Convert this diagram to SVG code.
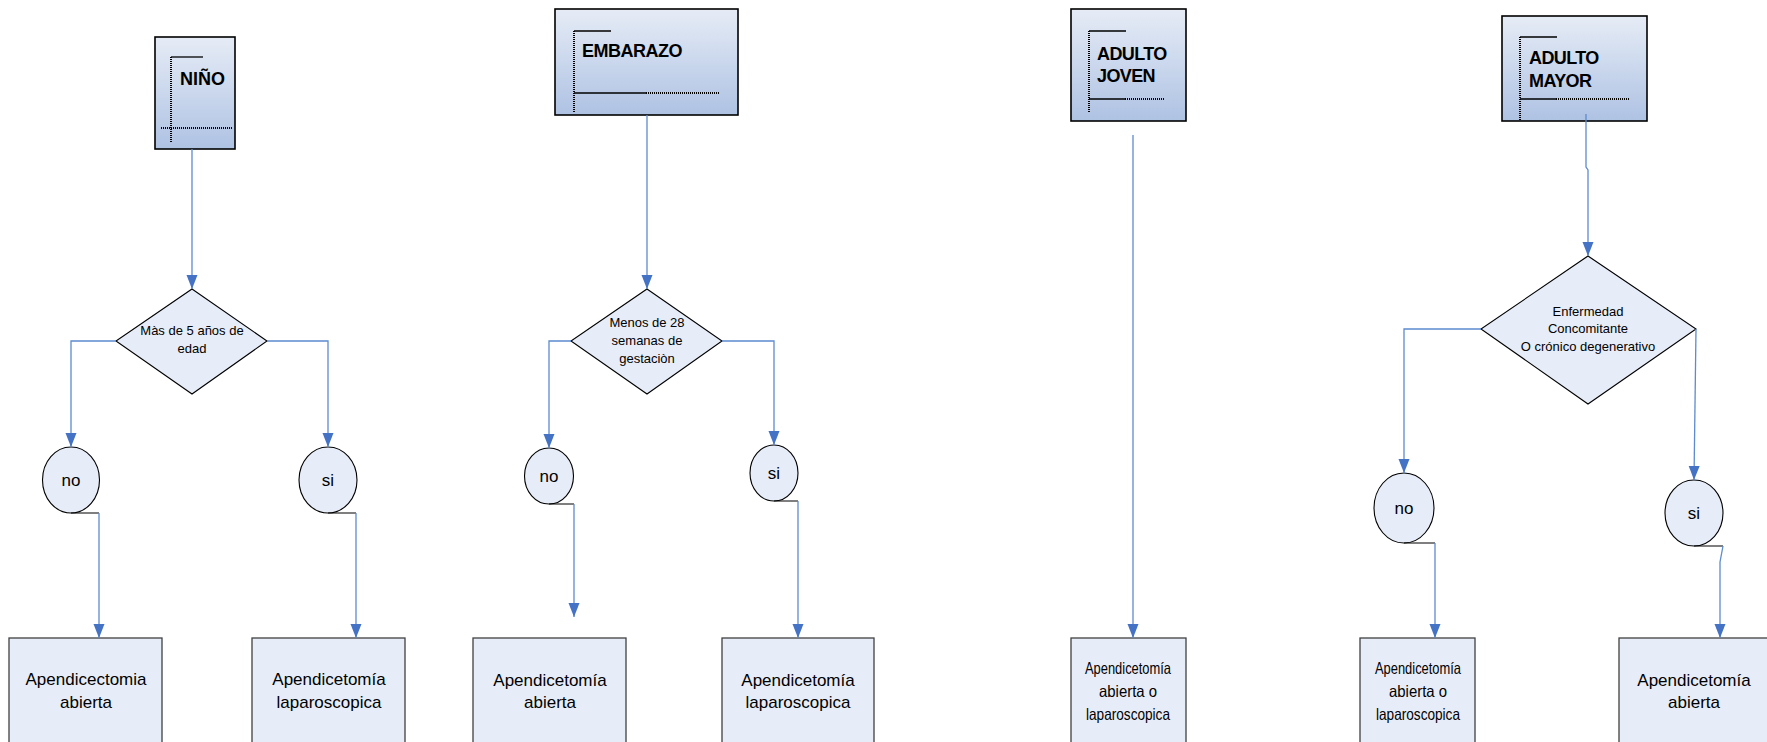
<svg xmlns="http://www.w3.org/2000/svg" width="1767" height="742" viewBox="0 0 1767 742">
<defs>
<linearGradient id="hg" x1="0" y1="0" x2="0" y2="1">
<stop offset="0" stop-color="#e6ecf6"/>
<stop offset="1" stop-color="#aec2e3"/>
</linearGradient>
<marker id="arr" markerUnits="userSpaceOnUse" markerWidth="14" markerHeight="12" refX="14" refY="6" orient="auto">
<path d="M0,0.5 L14,6 L0,11.5 z" fill="#4472c4"/>
</marker>
<style>
.hdr{fill:url(#hg);stroke:#000;stroke-width:1.6}
.dv{stroke:#000;stroke-width:2;stroke-dasharray:1 1;fill:none}
.sl{stroke:#000;stroke-width:1.3;fill:none}
.ht{font-family:"Liberation Sans",Arial,sans-serif;font-weight:bold;font-size:18px;fill:#000}
.dia{fill:#e7edf8;stroke:#000;stroke-width:1.1}
.cir{fill:#e7edf8;stroke:#000;stroke-width:1.1}
.box{fill:#e7edf8;stroke:#404040;stroke-width:1.3}
.dt{font-family:"Liberation Sans",Arial,sans-serif;font-size:13px;fill:#000;text-anchor:middle}
.ct{font-family:"Liberation Sans",Arial,sans-serif;font-size:17px;fill:#000;text-anchor:middle}
.bt{font-family:"Liberation Sans",Arial,sans-serif;font-size:17px;fill:#000;text-anchor:middle}
.bn{font-family:"Liberation Sans",Arial,sans-serif;font-size:16.5px;fill:#000;text-anchor:middle}
.con{stroke:#5b8bd0;stroke-width:1.3;fill:none}
.blk{stroke:#000;stroke-width:1.1;fill:none}
</style>
</defs>

<g id="n-nino">
<rect class="hdr" x="155" y="37" width="80" height="112"/>
<path class="dv" d="M171,57 V143"/>
<path class="sl" d="M171,57 H203"/>
<path class="dv" d="M161,128 H232"/>
<text class="ht" x="180" y="85">NIÑO</text>
</g>

<g id="n-embarazo">
<rect class="hdr" x="555" y="9" width="183" height="106"/>
<path class="dv" d="M574,31 V113"/>
<path class="sl" d="M574,31 H611 M574,93 H646"/>
<path class="dv" d="M646,93 H720"/>
<text class="ht" x="582" y="57" letter-spacing="-0.5">EMBARAZO</text>
</g>

<g id="n-adulto-joven">
<rect class="hdr" x="1071" y="9" width="115" height="112"/>
<path class="dv" d="M1089,31 V113"/>
<path class="sl" d="M1089,31 H1126 M1089,99 H1125"/>
<path class="dv" d="M1125,99 H1165"/>
<text class="ht" x="1097" y="60" letter-spacing="-0.6">ADULTO</text>
<text class="ht" x="1097" y="82" letter-spacing="-0.6">JOVEN</text>
</g>

<g id="n-adulto-mayor">
<rect class="hdr" x="1502" y="16" width="145" height="105"/>
<path class="dv" d="M1520,37 V120"/>
<path class="sl" d="M1520,37 H1557 M1520,99 H1556"/>
<path class="dv" d="M1556,99 H1629"/>
<text class="ht" x="1529" y="64" letter-spacing="-0.6">ADULTO</text>
<text class="ht" x="1529" y="87" letter-spacing="-0.6">MAYOR</text>
</g>

<g id="d-edad">
<polygon class="dia" points="192,289 267,341 192,394 116,341"/>
<text class="dt" x="192" y="335">Màs de 5 años de</text>
<text class="dt" x="192" y="353">edad</text>
</g>

<g id="d-gestacion">
<polygon class="dia" points="647,289 722,341 647,394 571,341"/>
<text class="dt" x="647" y="327">Menos de 28</text>
<text class="dt" x="647" y="345">semanas de</text>
<text class="dt" x="647" y="363">gestaciòn</text>
</g>

<g id="d-enfermedad">
<polygon class="dia" points="1588,256 1696,329 1588,404 1481,329"/>
<text class="dt" x="1588" y="316">Enfermedad</text>
<text class="dt" x="1588" y="333">Concomitante</text>
<text class="dt" x="1588" y="351">O crónico degenerativo</text>
</g>

<g id="c-nino-no"><ellipse class="cir" cx="71" cy="480" rx="28.5" ry="33"/><text class="ct" x="71" y="486">no</text></g>
<g id="c-nino-si"><ellipse class="cir" cx="328" cy="480" rx="29" ry="33"/><text class="ct" x="328" y="486">si</text></g>
<g id="c-emb-no"><ellipse class="cir" cx="549" cy="476" rx="24.5" ry="28"/><text class="ct" x="549" y="482">no</text></g>
<g id="c-emb-si"><ellipse class="cir" cx="774" cy="473" rx="24" ry="28"/><text class="ct" x="774" y="479">si</text></g>
<g id="c-am-no"><ellipse class="cir" cx="1404" cy="508" rx="30" ry="35"/><text class="ct" x="1404" y="514">no</text></g>
<g id="c-am-si"><ellipse class="cir" cx="1694" cy="513" rx="29" ry="33"/><text class="ct" x="1694" y="519">si</text></g>

<g id="b1"><rect class="box" x="9" y="638" width="153" height="120"/><text class="bt" x="86" y="685">Apendicectomia</text><text class="bt" x="86" y="708">abierta</text></g>
<g id="b2"><rect class="box" x="252" y="638" width="153" height="120"/><text class="bt" x="329" y="685">Apendicetomía</text><text class="bt" x="329" y="708">laparoscopica</text></g>
<g id="b3"><rect class="box" x="473" y="638" width="153" height="120"/><text class="bt" x="550" y="686">Apendicetomía</text><text class="bt" x="550" y="708">abierta</text></g>
<g id="b4"><rect class="box" x="722" y="638" width="152" height="120"/><text class="bt" x="798" y="686">Apendicetomía</text><text class="bt" x="798" y="708">laparoscopica</text></g>
<g id="b5"><rect class="box" x="1071" y="638" width="115" height="120"/><text class="bn" x="1128" y="674" textLength="86" lengthAdjust="spacingAndGlyphs">Apendicetomía</text><text class="bn" x="1128" y="697" textLength="58" lengthAdjust="spacingAndGlyphs">abierta o</text><text class="bn" x="1128" y="720" textLength="84" lengthAdjust="spacingAndGlyphs">laparoscopica</text></g>
<g id="b6"><rect class="box" x="1360" y="638" width="115" height="120"/><text class="bn" x="1418" y="674" textLength="86" lengthAdjust="spacingAndGlyphs">Apendicetomía</text><text class="bn" x="1418" y="697" textLength="58" lengthAdjust="spacingAndGlyphs">abierta o</text><text class="bn" x="1418" y="720" textLength="84" lengthAdjust="spacingAndGlyphs">laparoscopica</text></g>
<g id="b7"><rect class="box" x="1619" y="638" width="152" height="120"/><text class="bt" x="1694" y="686">Apendicetomía</text><text class="bt" x="1694" y="708">abierta</text></g>

<g id="connectors">
<path class="con" d="M192,149 V289" marker-end="url(#arr)"/>
<path class="con" d="M647,115 V289" marker-end="url(#arr)"/>
<path class="con" d="M1133,135 V638" marker-end="url(#arr)"/>
<path class="con" d="M1586,114 V167 L1588,170 V256" marker-end="url(#arr)"/>
<path class="con" d="M116,341 H71 V447" marker-end="url(#arr)"/>
<path class="con" d="M267,341 H328 V447" marker-end="url(#arr)"/>
<path class="con" d="M571,341 H549 V448" marker-end="url(#arr)"/>
<path class="con" d="M722,341 H774 V445" marker-end="url(#arr)"/>
<path class="con" d="M1481,329 H1404 V473" marker-end="url(#arr)"/>
<path class="con" d="M1696,329 L1694,480" marker-end="url(#arr)"/>
<path class="blk" d="M71,513 H99 M328,513 H356 M549,504 H574 M774,501 H798 M1404,543 H1435 M1694,546 H1723"/>
<path class="con" d="M99,513 V638" marker-end="url(#arr)"/>
<path class="con" d="M356,513 V638" marker-end="url(#arr)"/>
<path class="con" d="M574,504 V617" marker-end="url(#arr)"/>
<path class="con" d="M798,501 V638" marker-end="url(#arr)"/>
<path class="con" d="M1435,543 V638" marker-end="url(#arr)"/>
<path class="con" d="M1723,546 L1720,562 V638" marker-end="url(#arr)"/>
</g>
</svg>
